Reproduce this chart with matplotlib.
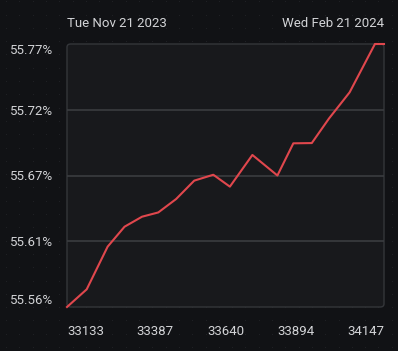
import matplotlib
matplotlib.use('Agg')
import matplotlib.pyplot as plt
import numpy as np
from matplotlib.patches import FancyBboxPatch

# datos
x_vals = [33133, 33196, 33263, 33317, 33373, 33425, 33482, 33540, 33601, 33654,
          33726, 33806, 33857, 33916, 33971, 34037, 34118, 34147]
y_vals = [55.561, 55.5751, 55.6092, 55.6251, 55.6331, 55.6365, 55.6472, 55.6619,
          55.6666, 55.6571, 55.6824, 55.666, 55.6917, 55.6919, 55.7115, 55.7324,
          55.771, 55.771]
x_tick_labels = ['33133', '33387', '33640', '33894', '34147']
fecha_inicio = 'Tue Nov 21 2023'
fecha_fin = 'Wed Feb 21 2024'

plt.rcParams['font.family'] = ['Roboto', 'DejaVu Sans']
texto = '#d2d3d6'
fondo = '#111215'
tam = 9.5

fig = plt.figure(figsize=(3.98, 3.51), dpi=100, facecolor=fondo)

# patron de puntos del fondo
bg = fig.add_axes([0, 0, 1, 1], zorder=-1)
bg.set_xlim(0, 398)
bg.set_ylim(0, 351)
bg.axis('off')
gx, gy = np.meshgrid(np.arange(6, 398, 13.3), np.arange(4, 351, 13.3))
bg.scatter(gx.ravel(), gy.ravel(), s=0.8, color='#202125', linewidths=0)

ax = fig.add_axes([67/398, 44/351, 317/398, 263/351])
ax.set_facecolor('none')

# fondo del panel con esquinas redondeadas
panel = FancyBboxPatch((0, 0), 1, 1, boxstyle='round,pad=0,rounding_size=0.012',
                       transform=ax.transAxes, facecolor='#18191c',
                       edgecolor='#34363a', linewidth=1, zorder=0, clip_on=False)
ax.add_patch(panel)

ymin, ymax = min(y_vals), max(y_vals)
ax.set_xlim(x_vals[0], x_vals[-1])
ax.set_ylim(ymin, ymax)

yticks = np.linspace(ymin, ymax, 5)
ax.set_yticks(yticks)
ax.set_yticklabels(['%.2f%%' % v for v in yticks])
for v in yticks[1:-1]:
    ax.axhline(v, color='#3a3c40', linewidth=1.2, zorder=1)

ax.plot(x_vals, y_vals, color='#e0474d', linewidth=1.5, zorder=3, clip_on=False)

ax.tick_params(axis='y', length=0, pad=10, labelsize=tam, labelcolor=texto)
ax.set_xticks([])
labs = ax.get_yticklabels()
labs[0].set_va('bottom')
labs[-1].set_va('top')
for s in ax.spines.values():
    s.set_visible(False)

# etiquetas del eje x repartidas entre los extremos
pos = [0, 0.278, 0.5, 0.722, 1]
for p, t in zip(pos, x_tick_labels):
    ha = 'left' if p == 0 else ('right' if p == 1 else 'center')
    ax.text(p, -0.092, t, transform=ax.transAxes, ha=ha, va='center',
            fontsize=tam, color=texto)

ax.text(0, 1.078, fecha_inicio, transform=ax.transAxes, ha='left', va='center',
        fontsize=tam, color=texto)
ax.text(1, 1.078, fecha_fin, transform=ax.transAxes, ha='right', va='center',
        fontsize=tam, color=texto)

fig.savefig('out.png', dpi=100, facecolor=fondo)
